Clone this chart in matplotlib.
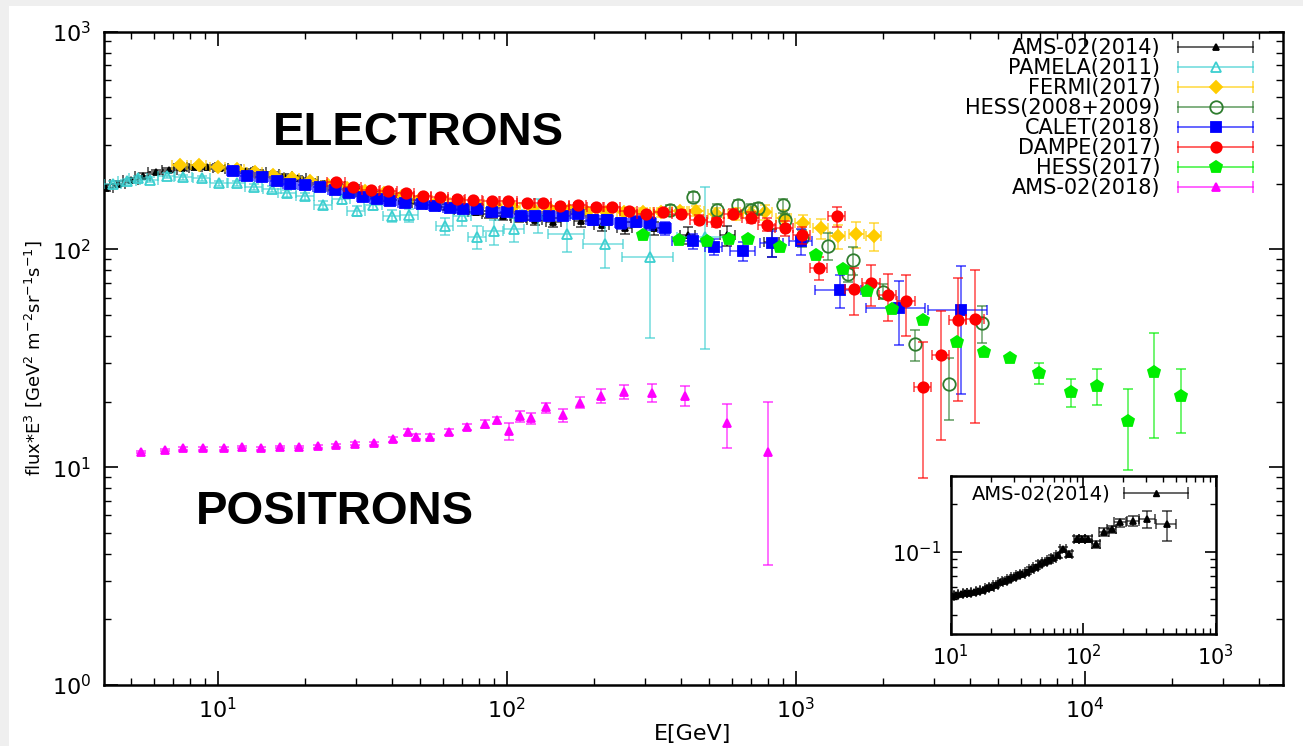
import numpy as np
import matplotlib
matplotlib.use('Agg')
import matplotlib.pyplot as plt
from matplotlib.lines import Line2D
from matplotlib.patches import Rectangle
from matplotlib.colors import to_rgba
from matplotlib.legend_handler import HandlerLine2D
from matplotlib.ticker import LogLocator, NullFormatter

plt.rcParams['font.family'] = ['DejaVu Sans']
plt.rcParams['mathtext.default'] = 'regular'

# ---------------- data: E [GeV], flux*E^3, symmetric errors ----------------
ams14_E = [4.1, 4.5, 5.0, 5.5, 6.1, 6.8, 7.5, 8.3, 9.2, 10.2, 11.3, 12.5, 13.8, 15.3, 17.0,
           19.0, 21.0, 23.5, 26.0, 29.0, 32.0, 36.0, 40.0, 45.0, 50.0, 56.0, 62.0, 70.0,
           78.0, 87.0, 97.0, 110, 125, 145, 181, 213, 256, 323, 423, 580, 824]
ams14_F = [192, 200, 208, 218, 226, 232, 236, 238, 238, 236, 234, 230, 227, 222, 217,
           212, 206, 200, 195, 189, 184, 179, 174, 169, 164, 160, 156, 152,
           148, 145, 142, 139, 136, 133, 135, 130, 125, 125, 116, 116, 108]
ams14_err = [6, 5, 5, 5, 5, 5, 5, 5, 5, 5, 5, 5, 5, 5, 5,
             5, 5, 5, 5, 5, 5, 5, 5, 5, 5, 5, 5, 5,
             5, 5, 5, 6, 6, 7, 8, 8, 8, 9, 10, 12, 16]

pam_E = [4.33, 4.85, 5.3, 5.8, 6.66, 7.6, 8.8, 10.1, 11.6, 13.3, 15.4, 17.4, 20.1, 23.2,
         26.8, 30.2, 34.5, 40.0, 46.0, 61.0, 70.0, 79.0, 90.0, 106, 128, 162, 218, 314, 484]
pam_F = [199, 205, 212, 209, 218, 214, 212, 201, 201, 193, 189, 181, 175, 160,
         170, 150, 160, 142, 143, 128, 142, 114, 121, 124, 145, 118, 106, 92, 114]
pam_err = [6, 6, 6, 6, 6, 6, 6, 6, 6, 6, 6, 7, 7, 7,
           8, 8, 9, 9, 10, 12, 14, 14, 16, 16, 26, 21, 24, 53, 79]
pam_xfrac = [0.07, 0.07, 0.07, 0.07, 0.07, 0.07, 0.07, 0.07, 0.07, 0.07, 0.07, 0.07, 0.07, 0.07,
             0.07, 0.07, 0.07, 0.07, 0.07, 0.07, 0.07, 0.07, 0.08, 0.08, 0.12, 0.14, 0.16, 0.2, 0.2]

fer_E = [7.4, 8.6, 10.0, 11.6, 13.4, 15.5, 18.0, 20.8, 24.1, 28.0, 32.4, 37.5, 43.5, 50.4,
         58.4, 67.7, 78.4, 90.8, 105, 122, 141, 164, 190, 220, 255, 295, 342, 396, 453,
         530, 620, 700, 783, 910, 1057, 1220, 1400, 1620, 1860]
fer_F = [245, 243, 240, 234, 226, 219, 212, 205, 198, 192, 186, 181, 176, 172,
         168, 165, 162, 159, 157, 155, 153, 151, 149, 148, 148, 148, 148, 150, 150,
         146, 145, 147, 148, 140, 132, 125, 115, 117, 115]
fer_err = [4, 4, 4, 4, 4, 4, 4, 4, 4, 4, 4, 4, 4, 4,
           4, 4, 4, 4, 4, 4, 4, 5, 5, 5, 6, 6, 7, 7, 8,
           8, 9, 10, 11, 12, 12, 13, 15, 16, 17]

h08_E = [368, 440, 532, 630, 700, 738, 900, 920, 1050, 1290, 1520, 1580, 2000, 2580, 3380, 4400]
h08_F = [151, 174, 151, 159, 151, 154, 159, 136, 113, 104, 77, 89, 64, 36.7, 24, 46]
h08_err = [8, 9, 10, 10, 10, 10, 12, 10, 10, 15, 6, 13, 5, 6, 7.6, 9]

cal_E = [11.3, 12.6, 14.2, 16.0, 17.7, 20.0, 22.5, 25.4, 28.5, 31.8, 35.5, 39.4, 44.3, 50.8,
         56.4, 63.5, 70.4, 78.8, 88.8, 100, 112, 125, 140, 157, 176, 198, 222, 249, 279,
         313, 352, 440, 520, 657, 825, 1040, 1420, 2280, 3730]
cal_F = [228, 216, 214, 205, 200, 198, 194, 188, 181, 174, 170, 166, 164, 161,
         158, 154, 153, 153, 148, 149, 142, 142, 142, 142, 145, 137, 137, 132, 134,
         132, 125, 109, 103, 98, 107, 109, 65, 54, 52.6]
cal_err = [5, 5, 5, 5, 5, 5, 5, 5, 5, 5, 5, 5, 5, 5,
           5, 5, 5, 5, 5, 5, 5, 6, 6, 6, 6, 7, 7, 8, 8,
           9, 9, 9, 9, 10, 15, 15, 11, 17.5, 31]
cal_xfrac = [0.05, 0.05, 0.05, 0.05, 0.05, 0.05, 0.05, 0.05, 0.05, 0.05, 0.05, 0.05, 0.05, 0.05,
             0.05, 0.05, 0.05, 0.05, 0.05, 0.05, 0.05, 0.05, 0.05, 0.05, 0.05, 0.05, 0.05, 0.05,
             0.05, 0.05, 0.05, 0.15, 0.07, 0.1, 0.09, 0.09, 0.18, 0.23, 0.23]

dam_E = [25.7, 29.3, 33.9, 38.8, 44.6, 51.2, 58.6, 67.1, 76.6, 88.6, 101, 117, 133, 153,
         176, 203, 231, 264, 303, 347, 402, 461, 528, 606, 698, 797, 914, 1048, 1200,
         1385, 1590, 1825, 2080, 2410, 2750, 3170, 3630, 4170]
dam_F = [203, 194, 188, 185, 181, 175, 173, 171, 168, 166, 166, 164, 163, 158,
         160, 156, 156, 150, 145, 148, 146, 137, 133, 146, 140, 130, 125, 116, 82,
         142, 66, 70, 62, 58, 23.3, 32.7, 47.2, 48]
dam_err = [3, 3, 3, 3, 3, 3, 3, 3, 3, 3, 3, 3, 3, 3,
           3, 4, 4, 4, 4, 5, 5, 6, 6, 7, 8, 9, 10, 10, 10,
           15, 16, 15, 15, 18, 14.4, 19.4, 27, 32]

h17_E = [296, 394, 492, 589, 685, 880, 1170, 1460, 1760, 2150, 2750, 3620, 4480, 5520,
         6950, 8930, 11000, 14100, 17300, 21600]
h17_F = [116, 110, 109, 112, 112, 103, 94, 81, 64.5, 53.3, 47.4, 37.5, 33.9, 31.6,
         27.1, 22.1, 23.7, 16.3, 27.4, 21.2]
h17_err = [1, 1, 1, 1, 1, 1, 1, 1, 1, 1, 1, 1, 1, 1.2,
           3, 3.2, 4.5, 6.6, 13.8, 6.9]

a18_E = [5.42, 6.55, 7.6, 8.9, 10.5, 12.1, 14.1, 16.4, 19.1, 22.2, 25.7, 29.9, 34.8, 40.4,
         45.5, 48.5, 54.3, 63, 72.8, 83.8, 92.6, 102, 111, 121, 137, 156, 179, 212, 255,
         318, 412, 577, 801]
a18_F = [11.75, 12.0, 12.2, 12.2, 12.2, 12.4, 12.2, 12.4, 12.4, 12.5, 12.6, 12.8, 12.9, 13.4,
         14.5, 13.8, 13.8, 14.5, 15.3, 15.8, 16.4, 14.6, 17.2, 16.8, 18.8, 17.3, 19.8, 21.3, 22.2,
         22.0, 21.3, 15.9, 11.75]
a18_err = [0.15, 0.15, 0.15, 0.15, 0.15, 0.15, 0.15, 0.15, 0.15, 0.2, 0.2, 0.2, 0.2, 0.3,
           0.4, 0.4, 0.4, 0.5, 0.5, 0.6, 0.6, 1.3, 1.0, 1.0, 1.0, 1.1, 1.2, 1.5, 1.6,
           2.1, 2.3, 3.7, 8.2]

# positron fraction (inset)
pf_E = [10.2, 11.0, 11.9, 12.8, 13.8, 14.9, 16.1, 17.4, 18.8, 20.3, 21.9, 23.7, 25.6, 27.6,
        29.8, 32.2, 34.8, 37.6, 40.6, 43.8, 47.3, 51.1, 55.2, 59.6, 64.4, 70.8, 78.7, 89.3,
        97.6, 109, 126, 144, 164, 190, 239, 304, 428]
pf_F = [0.0524, 0.0530, 0.0538, 0.0545, 0.0550, 0.0557, 0.0565, 0.0572, 0.0585, 0.0600,
        0.0617, 0.0638, 0.0652, 0.0672, 0.0690, 0.0710, 0.0722, 0.0745, 0.0780, 0.0800,
        0.0840, 0.0860, 0.0880, 0.0916, 0.0950, 0.1034, 0.0960, 0.1196, 0.1196, 0.1196,
        0.1110, 0.1330, 0.1380, 0.1526, 0.1560, 0.1600, 0.1490]
pf_err = [0.001, 0.001, 0.001, 0.001, 0.001, 0.001, 0.001, 0.0012, 0.0012, 0.0012,
          0.0013, 0.0014, 0.0015, 0.0016, 0.0017, 0.0018, 0.0019, 0.002, 0.0022, 0.0024,
          0.0026, 0.0028, 0.003, 0.0032, 0.0035, 0.004, 0.0042, 0.005, 0.005, 0.0055,
          0.006, 0.007, 0.008, 0.009, 0.011, 0.02, 0.032]
pf_xfrac = [0.04, 0.04, 0.04, 0.04, 0.04, 0.04, 0.04, 0.04, 0.04, 0.04, 0.04, 0.04, 0.04, 0.04,
            0.04, 0.04, 0.04, 0.04, 0.04, 0.04, 0.04, 0.04, 0.04, 0.04, 0.04, 0.05, 0.05, 0.05,
            0.05, 0.06, 0.07, 0.08, 0.08, 0.1, 0.1, 0.14, 0.17]

labels = ['AMS-02(2014)', 'PAMELA(2011)', 'FERMI(2017)', 'HESS(2008+2009)',
          'CALET(2018)', 'DAMPE(2017)', 'HESS(2017)', 'AMS-02(2018)']


def draw(ax, E, F, err, xfrac, color, marker, ms, hollow=False, z=2):
    E = np.asarray(E, float)
    F = np.asarray(F, float)
    xerr = None if xfrac is None else np.asarray(xfrac) * E
    ax.errorbar(E, F, yerr=err, xerr=xerr, fmt=marker, ms=ms, color=color,
                mfc='none' if hollow else color, mec=color, mew=1.3,
                ecolor=to_rgba(color, 0.65), elinewidth=1.2, capsize=3.5,
                capthick=1.2, zorder=z)


fig = plt.figure(figsize=(13.03, 7.46), dpi=100, facecolor='#efefef')
fig.patches.append(Rectangle((9/1303, 0), 1, 1 - 6/746, transform=fig.transFigure,
                             facecolor='white', edgecolor='none', zorder=-10))

ax = fig.add_axes([103.5/1303, 1 - 685/746, 1179/1303, 653.5/746])
ax.set_xscale('log')
ax.set_yscale('log')
ax.set_xlim(4.02, 48300)
ax.set_ylim(1, 1000)

styles = [
    (ams14_E, ams14_F, ams14_err, 0.06, 'black', '^', 5, False),
    (pam_E, pam_F, pam_err, pam_xfrac, '#3ccfd0', '^', 7, True),
    (fer_E, fer_F, fer_err, 0.06, '#ffcc00', 'D', 6.5, False),
    (h08_E, h08_F, h08_err, None, '#2e7d2e', 'o', 9, True),
    (cal_E, cal_F, cal_err, cal_xfrac, '#0000ff', 's', 7, False),
    (dam_E, dam_F, dam_err, 0.07, '#ff0000', 'o', 7.5, False),
    (h17_E, h17_F, h17_err, None, '#00ee00', 'p', 9, False),
    (a18_E, a18_F, a18_err, None, '#ff00ff', '^', 5.5, False),
]
handles = []
hmap = {}
for i, (E, F, err, xf, c, m, ms, hol) in enumerate(styles):
    draw(ax, E, F, err, xf, c, m, ms, hol, z=2 + i)
    caps = Line2D([0], [0], color=to_rgba(c, 0.7), lw=1.2, marker='|', ms=9, mew=1.2)
    mk = Line2D([0], [0], color=c, marker=m, ls='none', ms=ms,
                mfc='none' if hol else c, mec=c, mew=1.3)
    hmap[caps] = HandlerLine2D(numpoints=2, marker_pad=0)
    handles.append((caps, mk))

leg = ax.legend(handles, labels, handler_map=hmap, loc='upper right',
                bbox_to_anchor=(1253/1303, 1 - 38/746), bbox_transform=fig.transFigure,
                frameon=False, markerfirst=False, fontsize=15, labelspacing=0.0,
                handlelength=3.6, handletextpad=0.85, borderpad=0, borderaxespad=0,
                numpoints=1)

for s in ax.spines.values():
    s.set_linewidth(1.8)
ax.tick_params(which='both', direction='in', top=True, right=True, labelsize=16)
ax.tick_params(which='major', length=10, width=1.2, pad=9)
ax.tick_params(which='minor', length=5, width=1.0)
ax.xaxis.set_minor_formatter(NullFormatter())
ax.yaxis.set_minor_formatter(NullFormatter())

ax.set_xlabel('E[GeV]', fontsize=16, labelpad=1)
fig.text(33/1303, 1 - 358/746,
         r'flux*E$^3$ [GeV$^2$ m$^{-2}$sr$^{-1}$s$^{-1}$]',
         rotation=90, ha='center', va='center', fontsize=13)

ax.text(0.2667, 0.845, 'ELECTRONS', transform=ax.transAxes, ha='center', va='center',
        fontsize=34, fontweight='bold', family=['Liberation Sans', 'DejaVu Sans'])
ax.text(0.1963, 0.265, 'POSITRONS', transform=ax.transAxes, ha='center', va='center',
        fontsize=34, fontweight='bold', family=['Liberation Sans', 'DejaVu Sans'])

# ---------------- inset: positron fraction ----------------
ins = fig.add_axes([950.7/1303, 1 - 634.3/746, 265/1303, 158.3/746], zorder=20)
ins.set_facecolor('white')
ins.set_xscale('log')
ins.set_yscale('log')
ins.set_xlim(10, 1000)
ins.set_ylim(0.03, 0.3)
draw(ins, pf_E, pf_F, pf_err, pf_xfrac, 'black', '^', 5, False, z=3)
for s in ins.spines.values():
    s.set_linewidth(1.8)
ins.tick_params(which='both', direction='in', top=True, right=True, labelsize=15)
ins.tick_params(which='major', length=8, width=1.2, pad=7)
ins.tick_params(which='minor', length=4, width=1.0)
ins.xaxis.set_minor_formatter(NullFormatter())
ins.yaxis.set_minor_formatter(NullFormatter())
ins.yaxis.set_major_locator(LogLocator(base=10))

caps_i = Line2D([0], [0], color=to_rgba('black', 0.7), lw=1.2, marker='|', ms=9, mew=1.2)
mk_i = Line2D([0], [0], color='black', marker='^', ls='none', ms=5)
ins.legend([(caps_i, mk_i)], ['AMS-02(2014)'],
           handler_map={caps_i: HandlerLine2D(numpoints=2, marker_pad=0)},
           loc='upper right', bbox_to_anchor=(1188/1303, 1 - 485/746),
           bbox_transform=fig.transFigure, frameon=False, markerfirst=False,
           fontsize=14, handlelength=3.3, handletextpad=0.7, borderpad=0,
           borderaxespad=0, numpoints=1)

fig.savefig('out.png', dpi=100, facecolor=fig.get_facecolor())
